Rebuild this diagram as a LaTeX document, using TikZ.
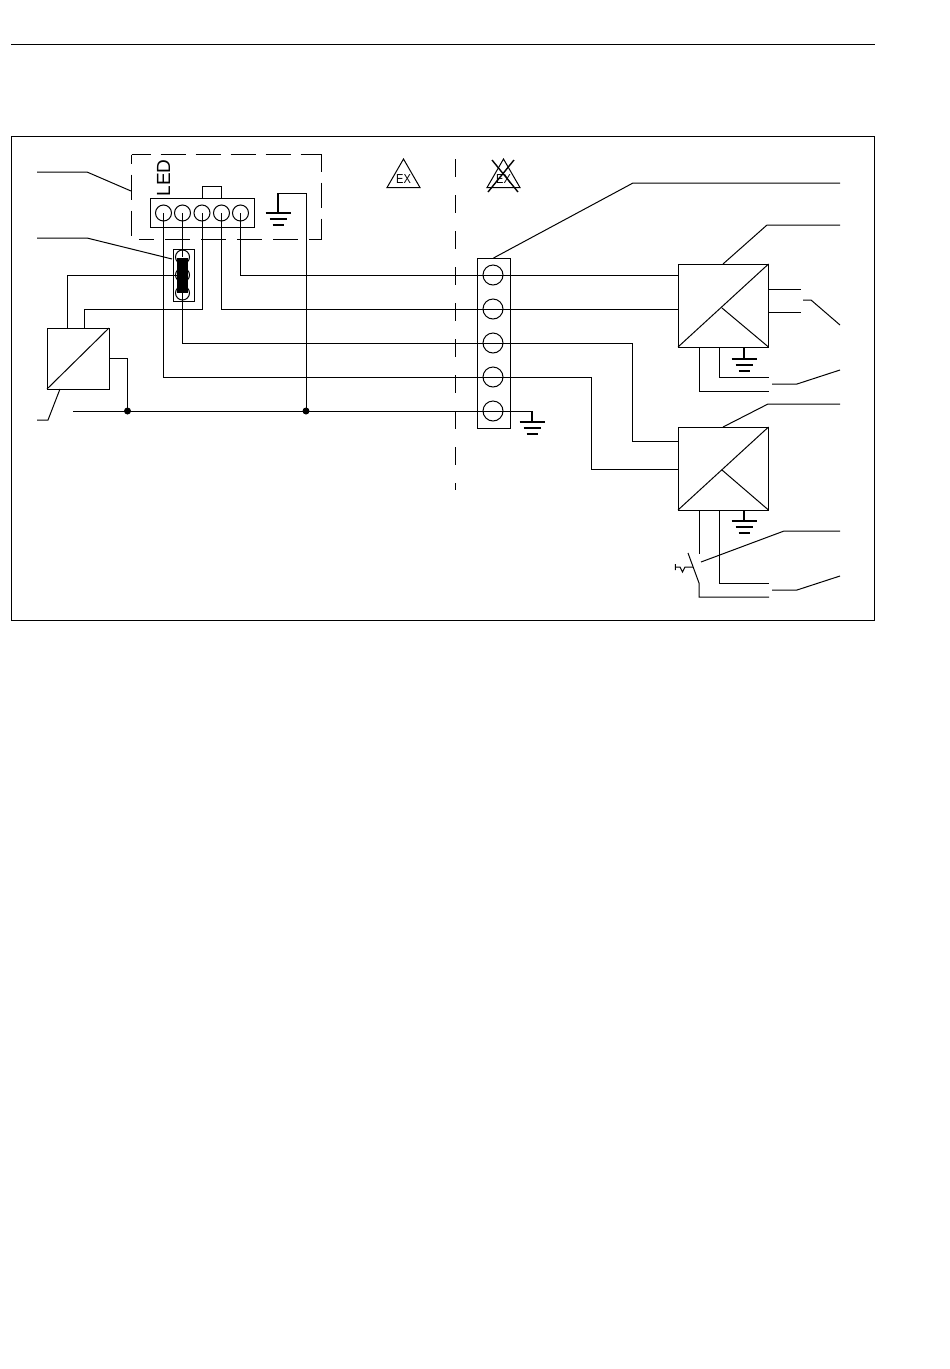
\documentclass[tikz,border=0pt]{standalone}
\usepackage{fontspec}
\setmainfont{Liberation Sans}
\usetikzlibrary{shapes.geometric}
\tikzset{
  terminal/.style = {circle, draw, inner sep=0pt, minimum size=16pt},
  bigterminal/.style = {circle, draw, inner sep=0pt, minimum size=20pt},
  fuseterminal/.style = {circle, draw, inner sep=0pt, minimum size=14pt},
  block/.style = {rectangle, draw, inner sep=0pt, outer sep=0pt, anchor=north west},
  junction/.style = {circle, fill, inner sep=0pt, minimum size=7pt},
  boundary/.style = {dash pattern=on 18pt off 18pt},
  exsign/.style = {regular polygon, regular polygon sides=3, draw, inner sep=0pt, outer sep=0pt, minimum size=38pt},
  extext/.style = {font=\fontsize{13}{13}\selectfont, xscale=.85, inner sep=0pt}
}
% one unit is one pixel of the reference
\newcommand{\earth}[2]{%
  \draw [line width=1.2pt] (#1) -- ++(0,#2);
  \draw [line width=1.2pt] ([shift={(-12.5,#2)}]#1) -- ++(25,0);
  \draw [line width=1.2pt] ([shift={(-8.5,#2+6)}]#1) -- ++(17,0);
  \draw [line width=1.6pt] ([shift={(-5.5,#2+12)}]#1) -- ++(11,0);
}
\begin{document}
\begin{tikzpicture}[x=1pt, y=-1pt, line width=1pt]
    \useasboundingbox (0,0) rectangle (950,1369);

    % page rule and frame
    \coordinate (ruleL) at (11,44);
    \coordinate (ruleR) at (875,44);
    \draw (ruleL) -- (ruleR);
    \node [block, minimum width=863.5pt, minimum height=484.5pt] (frame) at (11,136) {};

    % dashed housing
    \draw [dash pattern=on 25pt off 10pt, dash phase=6pt] (131.5,154.5) -- (321.5,154.5);
    \draw [dash pattern=on 25pt off 11pt, dash phase=8pt] (321.5,154.5) -- (321.5,239.5);
    \draw [dash pattern=on 25pt off 11pt, dash phase=12pt] (321.5,239.5) -- (139,239.5);
    \draw [dash pattern=on 25pt off 11pt, dash phase=16pt] (131.5,154.5) -- (131.5,236);

    % Nodes
    \node [block, minimum width=104pt, minimum height=29pt] (ledstrip) at (150,198) {};
    \foreach \i/\x in {1/163.5, 2/182.5, 3/202, 4/221.5, 5/240.5}
        \node [terminal] (led\i) at (\x,213) {};
    \node [rotate=90, font=\fontsize{19}{19}\selectfont, inner sep=0pt] (ledlabel) at (163.5,178) {LED};
    \node [block, minimum width=21pt, minimum height=52pt] (fuse) at (173,249) {};
    \foreach \i/\y in {1/257, 2/275, 3/293}
        \node [fuseterminal] (fuse\i) at (182.5,\y) {};
    \node [block, fill=black, minimum width=10pt, minimum height=34pt] (link) at (177.5,258) {};

    \node [block, minimum width=62pt, minimum height=61pt] (supply) at (47,328) {};
    \node [block, minimum width=33pt, minimum height=170pt] (strip) at (477,258) {};
    \foreach \i/\y in {1/275, 2/309, 3/343, 4/377, 5/411}
        \node [bigterminal] (term\i) at (493,\y) {};
    \node [block, minimum width=90.5pt, minimum height=83pt] (relayA) at (678,264) {};
    \node [block, minimum width=90.5pt, minimum height=83pt] (relayB) at (678,427) {};

    \node [exsign, anchor=north] (exsafe) at (403.5,159) {};
    \node [extext] (exsafetext) at (403.5,179) {EX};
    \node [exsign, anchor=north] (exhaz) at (503.5,159) {};
    \node [extext] (exhaztext) at (503.5,179) {EX};
    \draw [line width=1.4pt] (492,160) -- (518,192);
    \draw [line width=1.4pt] (514,160) -- (488,192);

    \node [junction] (dotA) at (127.5,411) {};
    \node [junction] (dotB) at (306,411) {};

    % free ends
    \coordinate (busL) at (73,411);
    \coordinate (earthled) at (278,193);
    \coordinate (earthbus) at (532,411);
    \coordinate (earthA) at (744,347);
    \coordinate (earthB) at (744,510);
    \coordinate (swtop) at (688,553);
    \coordinate (swbot) at (699,583);

    % wires
    \draw (led3 |- ledstrip.north) -- (202,186) -- (221.5,186) -- (led4 |- ledstrip.north);
    \draw (led1.center) |- (term4.center);
    \draw (led2.center) -- (fuse1.center);
    \draw (fuse3.center) |- (term3.center);
    \draw (led3.center) |- (84,309) -- (84,328);
    \draw (led4.center) |- (term2.center);
    \draw (led5.center) |- (term1.center);
    \draw (fuse2.center) -| (67,328);
    \draw (term1.center) -- (relayA.west |- term1);
    \draw (term2.center) -- (relayA.west |- term2);
    \draw (term3.center) -| (632,441) -- (678,441);
    \draw (term4.center) -| (591,469) -- (678,469);
    \draw (busL) -- (earthbus);
    \draw (109,358) -| (dotA.center);
    \draw (earthled) -| (dotB.center);

    % earth symbols
    \earth{earthled}{20}
    \earth{earthbus}{11}
    \earth{earthA}{12}
    \earth{earthB}{11}

    % box diagonals
    \draw (supply.south west) -- (supply.north east);
    \draw (relayA.south west) -- (relayA.north east);
    \draw (722,308) -- (relayA.south east);
    \draw (relayB.south west) -- (relayB.north east);
    \draw (722,470) -- (relayB.south east);

    % relay outputs
    \draw (769,289) -- (801,289);
    \draw (769,312) -- (801,312);
    \draw (719,347) |- (769,377);
    \draw (699,347) |- (769,391);
    \draw (719,510) |- (769,583);
    \draw (699,510) -- (699,554);
    \draw (swtop) -- (swbot) |- (769,597);
    \draw (675.3,564) -- (675.3,570) (675.3,567) -- (680,567) -- (682.5,572) -- (685,567) -- (693,567);

    % leaders
    \draw (37,172) -- (87,172) -- (131,191);
    \draw (37,238) -- (87,238) -- (172,259);
    \draw (37,420) -- (48,420) -- (60,389);
    \draw (strip.north) -- (633,183) -- (840,183);
    \draw (723,264) -- (767,225) -- (840,225);
    \draw (803,300) -- (811,300) -- (840,325);
    \draw (772,384) -- (797,384) -- (840,370);
    \draw (723,427) -- (768,404) -- (840,404);
    \draw (701,562) -- (784,531) -- (840,531);
    \draw (772,590) -- (797,590) -- (840,576);

    % boundary
    \draw [boundary] (455.5,159) -- (455.5,490);
\end{tikzpicture}
\end{document}
